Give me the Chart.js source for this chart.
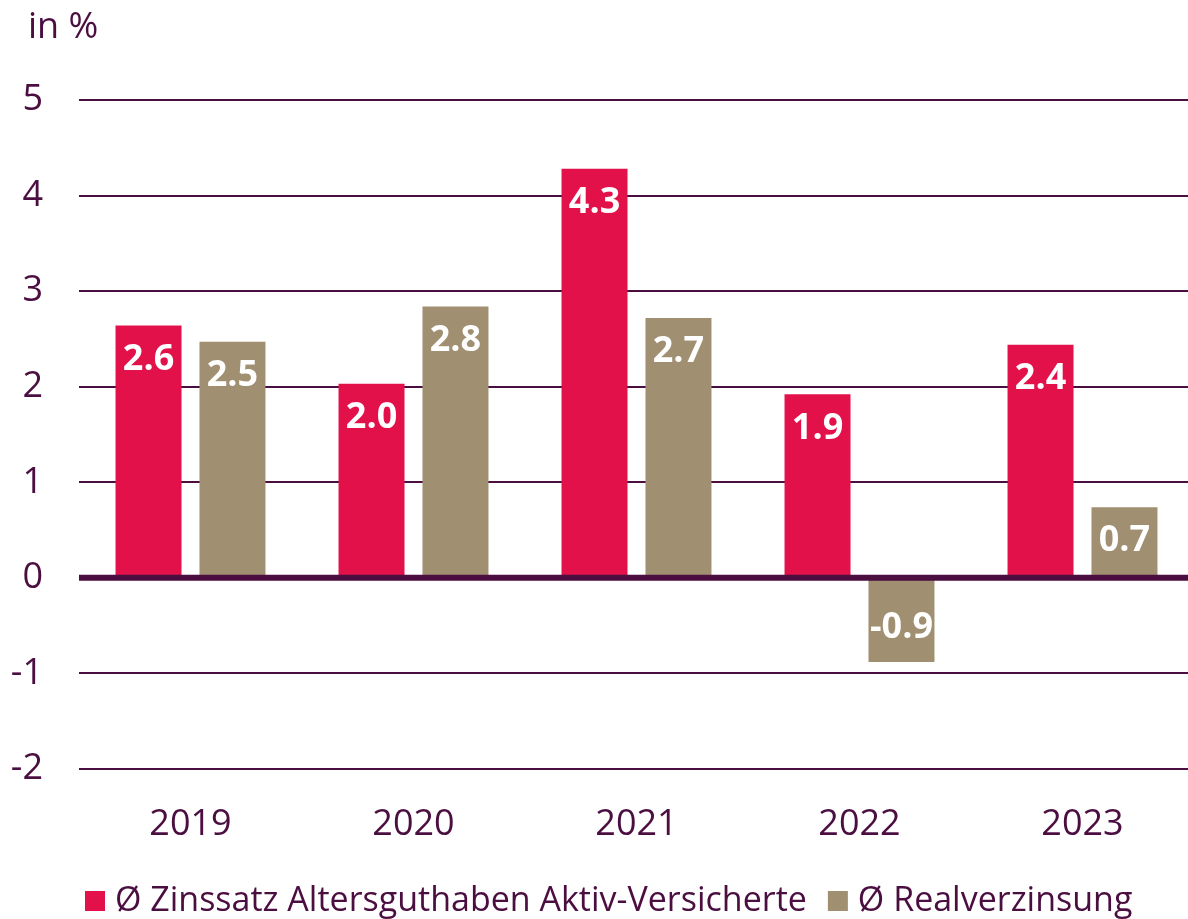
<!DOCTYPE html>
<html lang="de">
<head>
  <meta charset="UTF-8">
  <title>Zinssatz und Realverzinsung</title>
  <script src="https://cdn.jsdelivr.net/npm/chart.js"></script>
  <style>
    html, body { margin: 0; padding: 0; background: #fff; overflow: hidden; }
    canvas { display: block; }
  </style>
</head>
<body>
  <canvas id="grafik" width="1195" height="919"></canvas>

  <script>
    const jahre = ['2019', '2020', '2021', '2022', '2023'];
    // Werte (in %)
    const zinssatz = [2.64, 2.03, 4.28, 1.92, 2.44];
    const realverzinsung = [2.47, 2.84, 2.72, -0.88, 0.74];
    const yTicks = [-2, -1, 0, 1, 2, 3, 4, 5];

    const rot = '#e2114a';
    const beige = '#a18f71';
    const lila = '#4b0e40';
    const schrift = "'Open Sans', 'Noto Sans', sans-serif";

    // "in %" oben links, Nulllinie, Werte in den Balken und Legende
    const extras = {
      id: 'extras',
      beforeDraw(chart) {
        const ctx = chart.ctx;
        ctx.save();
        ctx.fillStyle = lila;
        ctx.font = '36px ' + schrift;
        ctx.textBaseline = 'middle';
        ctx.textAlign = 'left';
        ctx.fillText('in %', 28, 28);
        ctx.restore();
      },
      afterDatasetsDraw(chart) {
        const ctx = chart.ctx;
        const area = chart.chartArea;
        const y0 = chart.scales.y.getPixelForValue(0);
        ctx.save();
        ctx.strokeStyle = lila;
        ctx.lineWidth = 6;
        ctx.beginPath();
        ctx.moveTo(area.left, y0);
        ctx.lineTo(area.right, y0);
        ctx.stroke();

        ctx.fillStyle = '#fff';
        ctx.font = 'bold 36px ' + schrift;
        ctx.textAlign = 'center';
        ctx.textBaseline = 'middle';
        chart.data.datasets.forEach((ds, i) => {
          chart.getDatasetMeta(i).data.forEach((bar, j) => {
            const v = ds.data[j];
            const y = v >= 0 ? bar.y + 34 : bar.y - 34;
            ctx.fillText(v.toFixed(1), bar.x, y);
          });
        });
        ctx.restore();
      },
      afterDraw(chart) {
        const ctx = chart.ctx;
        ctx.save();
        ctx.font = '34px ' + schrift;
        ctx.textAlign = 'left';
        ctx.textBaseline = 'alphabetic';
        let x = 85;
        chart.data.datasets.forEach(ds => {
          ctx.fillStyle = ds.backgroundColor;
          ctx.fillRect(x, 891, 20, 20);
          ctx.fillStyle = lila;
          ctx.fillText(ds.label, x + 30, 911);
          x += 30 + ctx.measureText(ds.label).width + 21;
        });
        ctx.restore();
      }
    };

    new Chart(document.getElementById('grafik'), {
      type: 'bar',
      data: {
        labels: jahre,
        datasets: [
          {
            label: 'Ø Zinssatz Altersguthaben Aktiv-Versicherte',
            data: zinssatz,
            backgroundColor: rot,
            barPercentage: 0.786,
            categoryPercentage: 0.753
          },
          {
            label: 'Ø Realverzinsung',
            data: realverzinsung,
            backgroundColor: beige,
            barPercentage: 0.786,
            categoryPercentage: 0.753
          }
        ]
      },
      options: {
        responsive: false,
        animation: false,
        layout: { padding: { top: 100, right: 1, left: 0, bottom: 50 } },
        plugins: {
          legend: { display: false },
          tooltip: { enabled: false }
        },
        scales: {
          x: {
            grid: { display: false },
            border: { display: false },
            ticks: {
              color: lila,
              font: { family: schrift, size: 36 },
              padding: 26
            },
            afterFit(scale) { scale.height = 100; }
          },
          y: {
            min: -2,
            max: 5,
            afterBuildTicks(scale) { scale.ticks = yTicks.map(v => ({ value: v })); },
            grid: {
              color: lila,
              lineWidth: ctx => ctx.tick && ctx.tick.value === 0 ? 0 : 2,
              drawTicks: false
            },
            border: { display: false },
            ticks: {
              color: lila,
              font: { family: schrift, size: 36 },
              padding: 36
            },
            afterFit(scale) { scale.width = 79; }
          }
        }
      },
      plugins: [extras]
    });
  </script>
</body>
</html>
